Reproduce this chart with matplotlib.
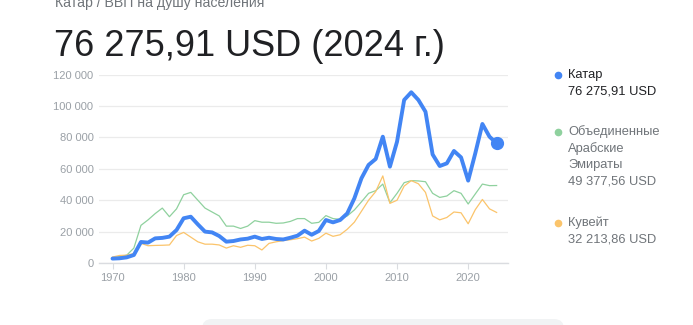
import matplotlib

matplotlib.use("Agg")
import matplotlib.pyplot as plt
from matplotlib.lines import Line2D
from matplotlib.patches import FancyBboxPatch
from matplotlib.ticker import FuncFormatter


YEARS = list(range(1970, 2025))

QATAR = [
    2800, 3000, 3600, 5100, 13400, 13000, 15700, 16000, 16800, 21000,
    28500, 29500, 24600, 20000, 19500, 17200, 13600, 14000, 15000, 15500,
    16800, 15300, 16100, 15300, 15000, 16100, 17400, 20600, 18000, 20400,
    27400, 25900, 27400, 31600, 41200, 54000, 62500, 66300, 80500, 61400,
    77300, 103900, 108800, 103900, 96400, 69200, 61800, 63500, 71400, 67300,
    52500, 69900, 88600, 80500, 76276,
]
UAE = [
    3500, 4000, 5000, 9500, 24000, 27500, 31500, 35000, 29500, 34500,
    43500, 45000, 40000, 35000, 32500, 30000, 23500, 23500, 22000, 23500,
    27000, 26000, 26000, 25300, 25500, 26500, 28300, 28300, 25300, 25900,
    30200, 28300, 27800, 30000, 33800, 39000, 44400, 46100, 50300, 38400,
    44400, 51200, 52500, 52300, 51800, 44400, 41800, 42700, 46100, 44400,
    37600, 44000, 50300, 49300, 49378,
]
KUWAIT = [
    3800, 4800, 5000, 6000, 12500, 11000, 11200, 11300, 11500, 17500,
    19500, 16500, 13500, 12000, 12000, 11500, 9500, 11000, 10000, 11300,
    11000, 8300, 12500, 13500, 14300, 14800, 15500, 16500, 14000, 15700,
    19000, 17000, 18000, 21500, 26000, 33000, 40000, 45500, 55500, 38000,
    40000, 49000, 52500, 50500, 45000, 30000, 27500, 29000, 32500, 32000,
    25000, 34000, 40500, 34500, 32214,
]

Y_TICKS = [0, 20000, 40000, 60000, 80000, 100000, 120000]
X_TICKS = [1970, 1980, 1990, 2000, 2010, 2020]

BREADCRUMB = "Катар / ВВП на душу населения"
HEADLINE = "76 275,91 USD (2024 г.)"
LEGEND = [
    ("#4285f4", "#202124", ["Катар", "76 275,91 USD"], [75, 92]),
    ("#8fd19e", "#70757a",
     ["Объединенные", "Арабские", "Эмираты", "49 377,56 USD"], [132, 148.5, 165, 181.5]),
    ("#fbc46b", "#70757a", ["Кувейт", "32 213,86 USD"], [223, 239.5]),
]

W, H = 693, 325
FONT = ["Liberation Sans", "DejaVu Sans"]

plt.rcParams["font.family"] = FONT


def fx(px):
    return px / W


def fy(py):
    return 1 - py / H


def main():
    fig = plt.figure(figsize=(W / 100, H / 100), dpi=100)
    ax = fig.add_axes([fx(99), fy(263), fx(508 - 99), (263 - 74.7) / H])

    ax.plot(YEARS, UAE, color="#8fd19e", linewidth=0.9, clip_on=False, zorder=3)
    ax.plot(YEARS, KUWAIT, color="#fbc46b", linewidth=0.9, clip_on=False, zorder=3)
    ax.plot(YEARS, QATAR, color="#4285f4", linewidth=2.8, clip_on=False,
            solid_joinstyle="round", solid_capstyle="round", zorder=4)
    ax.plot([YEARS[-1]], [QATAR[-1]], "o", color="#4285f4", markersize=8.5,
            clip_on=False, zorder=5)

    ax.set_xlim(1968.1, 2025.6)
    ax.set_ylim(0, 120000)
    ax.set_yticks(Y_TICKS)
    ax.set_xticks(X_TICKS)
    ax.yaxis.set_major_formatter(
        FuncFormatter(lambda v, _: f"{int(v):,}".replace(",", " ")))
    ax.grid(axis="y", color="#ebebeb", linewidth=0.9)
    ax.set_axisbelow(True)
    for side in ["top", "right", "left"]:
        ax.spines[side].set_visible(False)
    ax.spines["bottom"].set_color("#dadce0")
    ax.spines["bottom"].set_linewidth(1.0)
    ax.tick_params(axis="y", length=0, pad=4, labelsize=8, labelcolor="#9aa0a6")
    ax.tick_params(axis="x", length=4, width=0.8, color="#dadce0", pad=3,
                   labelsize=8, labelcolor="#9aa0a6")

    fig.text(fx(55), fy(7), BREADCRUMB, fontsize=10.2, color="#70757a",
             va="baseline", ha="left")
    fig.text(fx(54), fy(56), HEADLINE, fontsize=26, color="#202124",
             va="baseline", ha="left")

    for dot_color, text_color, lines, ys in LEGEND:
        fig.add_artist(Line2D([fx(558)], [fy(ys[0])], marker="o", markersize=4.5,
                              color=dot_color, linestyle="none",
                              transform=fig.transFigure))
        for line, y in zip(lines, ys):
            fig.text(fx(568), fy(y), line, fontsize=9.3, color=text_color,
                     va="center", ha="left")

    # grey rounded panel peeking in at the bottom edge (pixel coordinates)
    fig.add_artist(FancyBboxPatch((202, -30), 362, 36,
                                  boxstyle="round,pad=0,rounding_size=10",
                                  transform=None, facecolor="#f1f3f4",
                                  edgecolor="none"))

    fig.savefig("out.png", dpi=100)


if __name__ == "__main__":
    main()
